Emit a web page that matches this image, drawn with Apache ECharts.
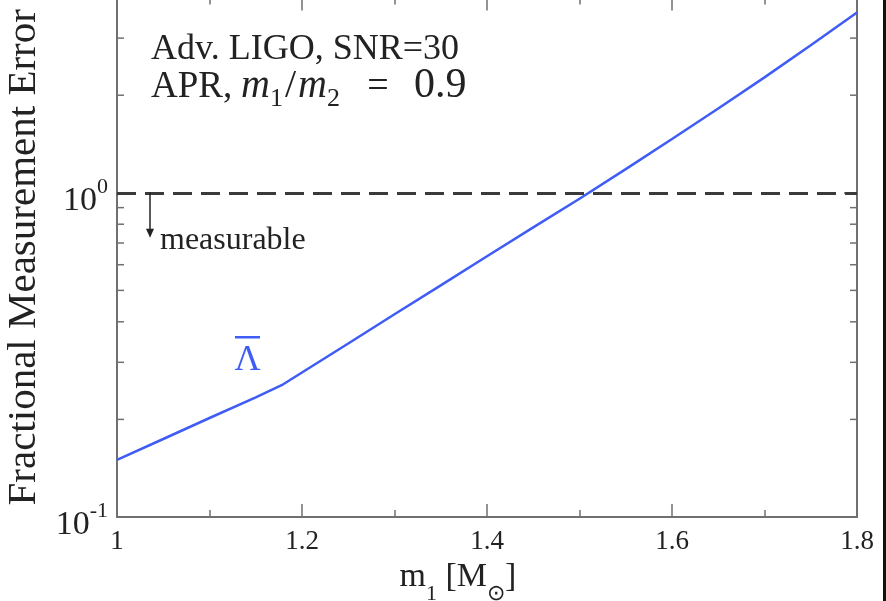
<!DOCTYPE html>
<html>
<head>
<meta charset="utf-8">
<script src="https://cdn.jsdelivr.net/npm/echarts@6/dist/echarts.min.js"></script>
<style>
  html, body { margin: 0; padding: 0; background: #fff; }
  #chart { width: 886px; height: 601px; }
</style>
</head>
<body>
<div id="chart"></div>
<script>
// ---- data ----
const massValues = [1.0, 1.05, 1.1, 1.15, 1.178, 1.25, 1.3, 1.35, 1.4, 1.45, 1.5, 1.55, 1.6, 1.65, 1.7, 1.75, 1.8];
const lambdaError = [0.150, 0.174, 0.202, 0.234, 0.255, 0.343, 0.422, 0.518, 0.637, 0.782, 0.959, 1.183, 1.466, 1.82, 2.27, 2.85, 3.60];
const xMin = 1.0, xMax = 1.8, xInterval = 0.2;
const yMin = 0.1, yMax = 4;
const yMinorTicks = [0.2, 0.3, 0.4, 0.5, 0.6, 0.7, 0.8, 0.9, 2, 3];
const measurableThreshold = 1;
const arrowX = 1.0357, arrowTip = 0.75;

const SERIF = '"Liberation Serif", "Times New Roman", serif';
const TXT = '#222';
const AXIS = '#707070';
const BLUE = '#3f5cf5';

const chart = echarts.init(document.getElementById('chart'), null, { renderer: 'canvas' });

function yLabel(v) {
  const e = Math.round(Math.log10(v));
  if (Math.abs(Math.log10(v) - e) > 1e-6) return '';
  return '{b|10}{s|' + e + '}';
}

const axisCommon = {
  axisLine: { show: true, lineStyle: { color: AXIS, width: 2 } },
  splitLine: { show: false }
};

const option = {
  backgroundColor: '#fff',
  animation: false,
  grid: { left: 117, right: 29, top: -2.4, bottom: 84, containLabel: false, outerBoundsMode: 'none' },
  xAxis: [
    Object.assign({
      type: 'value', min: xMin, max: xMax, interval: xInterval, position: 'bottom',
      axisTick: { show: true, inside: true, length: 13, lineStyle: { color: AXIS, width: 1.5 } },
      minorTick: { show: true, splitNumber: 2, length: 7, lineStyle: { color: AXIS, width: 1.5 } },
      axisLabel: { margin: 11, fontSize: 27, fontFamily: SERIF, color: TXT },
      name: '{b|m}{s|1}{b| [M}{s|⊙}{b|]}',
      nameLocation: 'middle', nameGap: 35,
      nameTextStyle: {
        padding: [0, 58, 0, 0],
        rich: {
          b: { fontSize: 34, lineHeight: 34, padding: [0, 0, 11, 0], fontFamily: SERIF, color: TXT },
          s: { fontSize: 22, lineHeight: 22, padding: [23, 0, 0, 0], fontFamily: SERIF, color: TXT }
        }
      }
    }, axisCommon),
    Object.assign({
      type: 'value', min: xMin, max: xMax, interval: xInterval, position: 'top',
      axisTick: { show: true, inside: true, length: 13, lineStyle: { color: AXIS, width: 1.5 } },
      minorTick: { show: true, splitNumber: 2, length: 7, lineStyle: { color: AXIS, width: 1.5 } },
      axisLabel: { show: false }
    }, axisCommon)
  ],
  yAxis: [
    Object.assign({
      type: 'log', logBase: 10, min: yMin, max: yMax, position: 'left',
      axisTick: { show: true, inside: true, length: 13, lineStyle: { color: AXIS, width: 1.5 } },
      axisLabel: {
        margin: 9, formatter: yLabel,
        rich: {
          b: { fontSize: 34, lineHeight: 34, padding: [16, 0, 0, 0], fontFamily: SERIF, color: TXT },
          s: { fontSize: 22, lineHeight: 22, padding: [8, 0, 20, 0], fontFamily: SERIF, color: TXT }
        }
      },
      name: 'Fractional Measurement Error',
      nameLocation: 'middle', nameGap: 65,
      nameTextStyle: { fontSize: 41, fontFamily: SERIF, color: TXT }
    }, axisCommon),
    Object.assign({
      type: 'log', logBase: 10, min: yMin, max: yMax, position: 'right',
      axisTick: { show: true, inside: true, length: 13, lineStyle: { color: AXIS, width: 1.5 } },
      axisLabel: { show: false }
    }, axisCommon)
  ],
  series: [
    {
      name: 'Lambda',
      type: 'line',
      xAxisIndex: 0, yAxisIndex: 0,
      data: massValues.map((m, i) => [m, lambdaError[i]]),
      showSymbol: false,
      lineStyle: { color: BLUE, width: 2.5 },
      z: 3,
      markLine: {
        silent: true, animation: false,
        symbol: ['none', 'none'],
        label: { show: false },
        emphasis: { disabled: true },
        data: [
          { yAxis: measurableThreshold, lineStyle: { type: [19, 9], width: 3, color: '#3a3a3a' } },
          [
            { coord: [arrowX, measurableThreshold], symbol: 'none', lineStyle: { type: 'solid', width: 1.5, color: '#222' } },
            { coord: [arrowX, arrowTip], symbol: 'triangle', symbolSize: [8, 9], lineStyle: { type: 'solid', width: 1.5, color: '#222' } }
          ]
        ]
      }
    },
    {
      name: 'yMinorTicks',
      type: 'custom',
      xAxisIndex: 0, yAxisIndex: 0,
      silent: true,
      clip: false,
      data: yMinorTicks.map(v => [xMin, v]),
      renderItem: function (params, api) {
        const v = api.value(1);
        const pL = api.coord([xMin, v]);
        const pR = api.coord([xMax, v]);
        const st = { stroke: AXIS, lineWidth: 1.5 };
        return {
          type: 'group',
          children: [
            { type: 'line', shape: { x1: pL[0], y1: pL[1], x2: pL[0] + 7, y2: pL[1] }, style: st },
            { type: 'line', shape: { x1: pR[0], y1: pR[1], x2: pR[0] - 7, y2: pR[1] }, style: st }
          ]
        };
      }
    }
  ],
  graphic: [
    {
      type: 'text', x: 151, y: 50,
      style: { text: 'Adv. LIGO, SNR=30', fontSize: 36, fontFamily: SERIF, fill: TXT, align: 'left', verticalAlign: 'middle' }
    },
    {
      type: 'text', x: 151, y: 66,
      style: {
        text: '{t|APR,}{mi|m}{sb|1}{sl|/}{mi|m}{sb|2}{eq|=}{nu|0.9}',
        align: 'left', verticalAlign: 'top',
        rich: {
          t: { fontSize: 37, lineHeight: 37, padding: [7, 0, 6, 0], width: 90, fontFamily: SERIF, fill: TXT, color: TXT },
          mi: { fontSize: 40, lineHeight: 40, padding: [4, 0, 6, 0], fontStyle: 'italic', fontFamily: SERIF, fill: TXT, color: TXT },
          sb: { fontSize: 26, lineHeight: 26, padding: [24, 2, 0, 0], fontFamily: SERIF, fill: TXT, color: TXT },
          sl: { fontSize: 40, lineHeight: 40, padding: [4, 2, 6, 0], fontFamily: SERIF, fill: TXT, color: TXT },
          eq: { fontSize: 38, lineHeight: 38, padding: [6, 0, 6, 0], width: 72, align: 'center', fontFamily: SERIF, fill: TXT, color: TXT },
          nu: { fontSize: 42, lineHeight: 42, padding: [3, 0, 5, 0], fontFamily: SERIF, fill: TXT, color: TXT }
        }
      }
    },
    {
      type: 'text', x: 160, y: 241,
      style: { text: 'measurable', fontSize: 32, fontFamily: SERIF, fill: TXT, align: 'left', verticalAlign: 'middle' }
    },
    {
      type: 'text', x: 247.5, y: 360.5,
      style: { text: 'Λ', fontSize: 36, fontFamily: SERIF, fill: BLUE, align: 'center', verticalAlign: 'middle' }
    },
    {
      type: 'rect', shape: { x: 235, y: 336, width: 25, height: 2.5 },
      style: { fill: BLUE }
    },
    {
      type: 'rect', shape: { x: 883, y: 0, width: 3, height: 601 },
      style: { fill: '#111' }
    }
  ]
};

chart.setOption(option);
</script>
</body>
</html>
